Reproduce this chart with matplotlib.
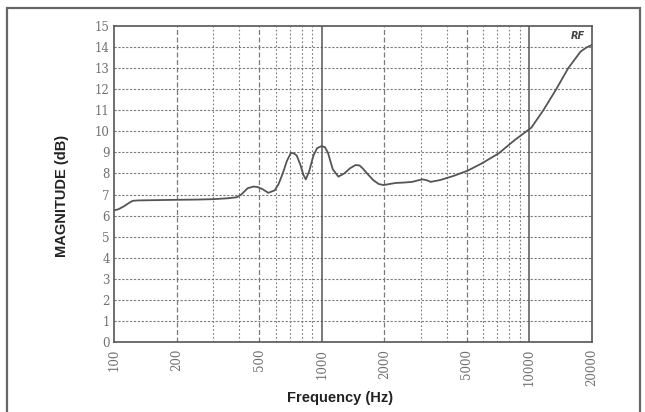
import matplotlib.pyplot as plt
from matplotlib.patches import Rectangle

# frequency response
freq = [100, 105, 112, 118, 123, 130, 150, 200, 250, 300, 350, 390, 410, 440,
        470, 493, 520, 553, 594, 620, 649, 680, 711, 735, 758, 790, 815, 838,
        870, 912, 950, 999, 1035, 1070, 1130, 1202, 1283, 1370, 1455, 1520,
        1575, 1670, 1768, 1880, 1985, 2120, 2275, 2500, 2724, 2900, 3054, 3200,
        3346, 3720, 4300, 5033, 5900, 7100, 8500, 10200, 11660, 13380, 15350,
        17600, 18800, 20000]
mag = [6.25, 6.3, 6.45, 6.6, 6.7, 6.72, 6.73, 6.75, 6.76, 6.78, 6.82, 6.87, 7.0,
       7.3, 7.38, 7.35, 7.25, 7.08, 7.2, 7.5, 8.0, 8.6, 8.98, 8.95, 8.85, 8.4,
       7.95, 7.72, 8.1, 8.85, 9.2, 9.3, 9.25, 9.0, 8.2, 7.85, 8.0, 8.25, 8.4,
       8.38, 8.24, 7.95, 7.69, 7.5, 7.45, 7.5, 7.55, 7.57, 7.6, 7.67, 7.72, 7.68,
       7.6, 7.69, 7.88, 8.13, 8.48, 8.95, 9.59, 10.17, 11.0, 11.96, 12.99, 13.78,
       13.98, 14.1]

xticks = [100, 200, 500, 1000, 2000, 5000, 10000, 20000]
yticks = list(range(0, 16))

grey = "#555555"
light = "#7a7a7a"

fig = plt.figure(figsize=(6.45, 4.12), dpi=100)
fig.patches.append(Rectangle((7 / 645, -0.05), 633 / 645, 1.05 - 8 / 412,
                             transform=fig.transFigure, fill=False,
                             edgecolor="#666666", linewidth=1.6))

ax = fig.add_axes([114 / 645, 70 / 412, 478 / 645, 316 / 412])
ax.set_xscale("log")
ax.set_xlim(100, 20000)
ax.set_ylim(0, 15)

# horizontal grid
for v in range(1, 15):
    ax.axhline(v, color=light, linestyle=(0, (2, 1.5)), linewidth=0.8, zorder=1)

# vertical grid
for decade in [100, 1000, 10000]:
    for m in range(2, 10):
        f = decade * m
        if f >= 20000:
            continue
        if m in (2, 5):
            ax.axvline(f, color=light, linestyle=(0, (4, 2)), linewidth=0.9, zorder=1)
        else:
            ax.axvline(f, color=light, linestyle=(0, (1.5, 2)), linewidth=0.8, zorder=1)
for f in [1000, 10000]:
    ax.axvline(f, color=grey, linewidth=1.1, zorder=1)

ax.plot(freq, mag, color=grey, linewidth=1.3, zorder=3)

ax.set_xticks(xticks)
ax.set_xticklabels([str(t) for t in xticks], rotation=90, va="top")
ax.set_xticks([], minor=True)
ax.set_yticks(yticks)
ax.tick_params(length=0, labelsize=8.5, labelcolor="#707070")
ax.tick_params(axis="x", pad=5)
ax.tick_params(axis="y", pad=3)
for lab in ax.get_xticklabels() + ax.get_yticklabels():
    lab.set_family("DejaVu Serif")

for s in ax.spines.values():
    s.set_color(grey)
    s.set_linewidth(1.2)

ax.text(0.985, 0.985, "RF", transform=ax.transAxes, ha="right", va="top",
        fontsize=7, fontweight="bold", fontstyle="italic", color="#444444")

fig.text(62 / 645, 1 - 196 / 412, "MAGNITUDE (dB)", rotation=90, ha="center",
         va="center", fontsize=10.5, fontweight="bold", family="Liberation Sans",
         color="#222222")
fig.text(340 / 645, 1 - 398 / 412, "Frequency (Hz)", ha="center", va="center",
         fontsize=10.5, fontweight="bold", family="Liberation Sans", color="#222222")

fig.savefig("out.png", dpi=100)
